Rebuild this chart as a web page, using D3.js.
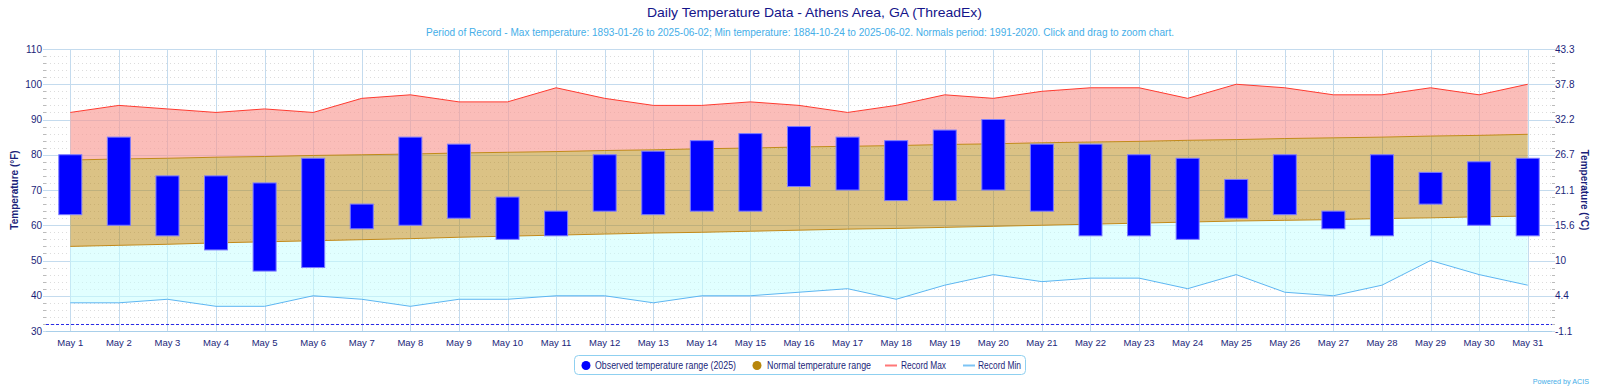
<!DOCTYPE html>
<html>
<head>
<meta charset="utf-8">
<script src="https://cdn.jsdelivr.net/npm/d3@7"></script>
<style>
  html, body { margin: 0; padding: 0; background: #fff; }
  svg { display: block; font-family: "Liberation Sans", Arial, sans-serif; }
</style>
</head>
<body>
<svg id="chart" width="1600" height="390"></svg>
<script>
const days = ["May 1","May 2","May 3","May 4","May 5","May 6","May 7","May 8","May 9","May 10","May 11","May 12","May 13","May 14","May 15","May 16","May 17","May 18","May 19","May 20","May 21","May 22","May 23","May 24","May 25","May 26","May 27","May 28","May 29","May 30","May 31"];
const obsLow  = [63,60,57,53,47,48,59,60,62,56,57,64,63,64,64,71,70,67,67,70,64,57,57,56,62,63,59,57,66,60,57];
const obsHigh = [80,85,74,74,72,79,66,85,83,68,64,80,81,84,86,88,85,84,87,90,83,83,80,79,73,80,64,80,75,78,79];
const normalMax = [78.5,78.8,79.0,79.3,79.5,79.8,80.0,80.2,80.5,80.7,80.9,81.2,81.4,81.7,81.9,82.2,82.4,82.6,82.9,83.1,83.4,83.6,83.8,84.1,84.3,84.6,84.8,85.0,85.3,85.5,85.8];
const normalMin = [54.0,54.3,54.6,55.0,55.3,55.6,55.9,56.2,56.6,56.9,57.2,57.5,57.8,58.0,58.3,58.6,58.9,59.1,59.4,59.7,60.0,60.3,60.6,60.9,61.2,61.4,61.6,61.9,62.1,62.4,62.6];
const recordMax = [92,94,93,92,93,92,96,97,95,95,99,96,94,94,95,94,92,94,97,96,98,99,99,96,100,99,97,97,99,97,100];
const recordMin = [38,38,39,37,37,40,39,37,39,39,40,40,38,40,40,41,42,39,43,46,44,45,45,42,46,41,40,43,50,46,43];
const yTicksF = [30,40,50,60,70,80,90,100,110];
const yTicksC = ["-1.1","4.4","10","15.6","21.1","26.7","32.2","37.8","43.3"];
const freezing = 32;
const titleText = "Daily Temperature Data - Athens Area, GA (ThreadEx)";
const subtitleText = "Period of Record - Max temperature: 1893-01-26 to 2025-06-02; Min temperature: 1884-10-24 to 2025-06-02. Normals period: 1991-2020. Click and drag to zoom chart.";
const legendItems = [
  {label: "Observed temperature range (2025)", type: "dot", color: "#0000ff"},
  {label: "Normal temperature range", type: "dot", color: "#b8860b"},
  {label: "Record Max", type: "line", color: "#f77"},
  {label: "Record Min", type: "line", color: "#7cc4f5"}
];

const svg = d3.select("#chart");
const L = 46, R = 1552, T = 49, B = 331;
const navy = "#1b1f7a";
const gridColor = "#c4dbee";

const x = d3.scaleBand().domain(days).range([L, R]).paddingInner(0).paddingOuter(0);
const cx = d => x(d) + x.bandwidth() / 2;
const y = d3.scaleLinear().domain([30, 110]).range([B, T]);

// minor gridlines
const minor = d3.range(30, 111, 2).filter(v => v % 10 !== 0);
svg.append("g").selectAll("line").data(minor).join("line")
  .attr("x1", L).attr("x2", R)
  .attr("y1", d => Math.round(y(d)) + 0.5).attr("y2", d => Math.round(y(d)) + 0.5)
  .attr("stroke", "#dcdcdc").attr("stroke-dasharray", "1,3");
// minor ticks
svg.append("g").selectAll("line").data(minor).join("line")
  .attr("x1", L - 3).attr("x2", L)
  .attr("y1", d => Math.round(y(d)) + 0.5).attr("y2", d => Math.round(y(d)) + 0.5)
  .attr("stroke", "#bbb");
svg.append("g").selectAll("line").data(minor).join("line")
  .attr("x1", R).attr("x2", R + 3)
  .attr("y1", d => Math.round(y(d)) + 0.5).attr("y2", d => Math.round(y(d)) + 0.5)
  .attr("stroke", "#bbb");

// major gridlines
svg.append("g").selectAll("line").data(yTicksF).join("line")
  .attr("x1", L - 3).attr("x2", R + 3)
  .attr("y1", d => Math.round(y(d)) + 0.5).attr("y2", d => Math.round(y(d)) + 0.5)
  .attr("stroke", gridColor);

// vertical gridlines
svg.append("g").selectAll("line").data(days).join("line")
  .attr("x1", d => Math.round(cx(d)) + 0.5).attr("x2", d => Math.round(cx(d)) + 0.5)
  .attr("y1", T).attr("y2", B)
  .attr("stroke", gridColor);

const idx = d3.range(days.length);

// record max area (normal max -> record max)
svg.append("path").datum(idx)
  .attr("d", d3.area().x(i => cx(days[i])).y0(i => y(normalMax[i])).y1(i => y(recordMax[i])))
  .attr("fill", "#f99a94").attr("fill-opacity", 0.65);
// record min area (record min -> normal min)
svg.append("path").datum(idx)
  .attr("d", d3.area().x(i => cx(days[i])).y0(i => y(recordMin[i])).y1(i => y(normalMin[i])))
  .attr("fill", "#c8ffff").attr("fill-opacity", 0.55);
// normal range
svg.append("path").datum(idx)
  .attr("d", d3.area().x(i => cx(days[i])).y0(i => y(normalMin[i])).y1(i => y(normalMax[i])))
  .attr("fill", "#b8860b").attr("fill-opacity", 0.5);
svg.append("path").datum(idx)
  .attr("d", d3.line().x(i => cx(days[i])).y(i => y(normalMax[i])))
  .attr("fill", "none").attr("stroke", "#c28a1a").attr("stroke-width", 1);
svg.append("path").datum(idx)
  .attr("d", d3.line().x(i => cx(days[i])).y(i => y(normalMin[i])))
  .attr("fill", "none").attr("stroke", "#c28a1a").attr("stroke-width", 1);

// record lines
svg.append("path").datum(idx)
  .attr("d", d3.line().x(i => cx(days[i])).y(i => y(recordMax[i])))
  .attr("fill", "none").attr("stroke", "#ff3b30").attr("stroke-width", 1);
svg.append("path").datum(idx)
  .attr("d", d3.line().x(i => cx(days[i])).y(i => y(recordMin[i])))
  .attr("fill", "none").attr("stroke", "#5db6f2").attr("stroke-width", 1);

// freezing line
svg.append("line")
  .attr("x1", L).attr("x2", R)
  .attr("y1", Math.round(y(freezing)) + 0.5).attr("y2", Math.round(y(freezing)) + 0.5)
  .attr("stroke", "#2a2ae8").attr("stroke-dasharray", "3,2");

// x axis line
svg.append("line").attr("x1", L).attr("x2", R).attr("y1", B + 0.5).attr("y2", B + 0.5)
  .attr("stroke", "#a9cfea");

// observed bars
const bw = 23;
svg.append("g").selectAll("rect").data(idx).join("rect")
  .attr("x", i => cx(days[i]) - bw / 2)
  .attr("y", i => y(obsHigh[i]))
  .attr("width", bw)
  .attr("height", i => y(obsLow[i]) - y(obsHigh[i]))
  .attr("fill", "#0000ff").attr("stroke", "#7b7bff").attr("stroke-width", 1);

// left axis labels
svg.append("g").selectAll("text").data(yTicksF).join("text")
  .attr("x", 42).attr("y", d => y(d) + 3.5)
  .attr("text-anchor", "end").attr("font-size", 10).attr("fill", navy)
  .text(d => d);
// right axis labels
svg.append("g").selectAll("text").data(yTicksF).join("text")
  .attr("x", 1555).attr("y", d => y(d) + 3.5)
  .attr("text-anchor", "start").attr("font-size", 10).attr("fill", navy)
  .text((d, i) => yTicksC[i]);

// x labels
svg.append("g").selectAll("text").data(days).join("text")
  .attr("x", d => cx(d)).attr("y", 346)
  .attr("text-anchor", "middle").attr("font-size", 9.5).attr("fill", navy)
  .text(d => d);

// axis titles
svg.append("text").attr("transform", "translate(18,190) rotate(-90)")
  .attr("text-anchor", "middle").attr("font-size", 10).attr("font-weight", "bold").attr("fill", navy)
  .text("Temperature (°F)");
svg.append("text").attr("transform", "translate(1581,190) rotate(90)")
  .attr("text-anchor", "middle").attr("font-size", 10).attr("font-weight", "bold").attr("fill", navy)
  .text("Temperature (°C)");

// titles
svg.append("text").attr("x", 647).attr("y", 16.5)
  .attr("textLength", 335).attr("lengthAdjust", "spacingAndGlyphs")
  .attr("font-size", 13.5).attr("fill", "#14148a").text(titleText);
svg.append("text").attr("x", 426).attr("y", 36)
  .attr("textLength", 748).attr("lengthAdjust", "spacingAndGlyphs")
  .attr("font-size", 10).attr("fill", "#45aee8").text(subtitleText);

// legend
const lg = svg.append("g");
lg.append("rect").attr("x", 574.5).attr("y", 355.5).attr("width", 451).attr("height", 19).attr("rx", 4)
  .attr("fill", "#fff").attr("stroke", "#8fd0f0").attr("stroke-width", 1);
const legendX = [586, 757, 885, 963];
const textX = [595, 767, 901, 978];
const textW = [141, 104, 45, 43];
legendItems.forEach((it, i) => {
  if (it.type === "dot") {
    lg.append("circle").attr("cx", legendX[i]).attr("cy", 365.5).attr("r", 4.5).attr("fill", it.color);
  } else {
    lg.append("line").attr("x1", legendX[i]).attr("x2", legendX[i] + 12).attr("y1", 365.5).attr("y2", 365.5)
      .attr("stroke", it.color).attr("stroke-width", 2);
  }
  lg.append("text").attr("x", textX[i]).attr("y", 369)
    .attr("textLength", textW[i]).attr("lengthAdjust", "spacingAndGlyphs")
    .attr("font-size", 10).attr("fill", navy).text(it.label);
});

svg.append("text").attr("x", 1589).attr("y", 384).attr("text-anchor", "end")
  .attr("font-size", 7.2).attr("fill", "#45aee8").text("Powered by ACIS");
</script>
</body>
</html>
